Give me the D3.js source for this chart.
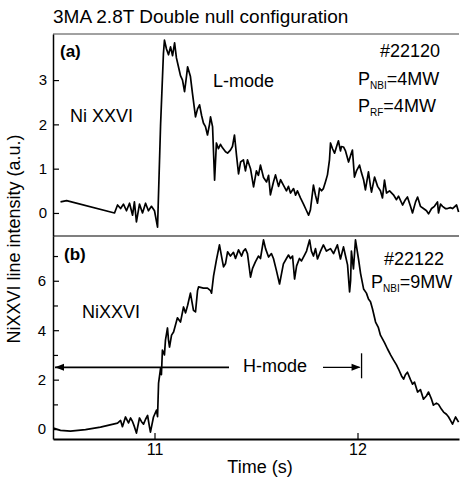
<!DOCTYPE html>
<html>
<head>
<meta charset="utf-8">
<script src="https://cdn.jsdelivr.net/npm/d3@7"></script>
<style>
  html, body { margin: 0; padding: 0; background: #fff; }
  svg { display: block; font-family: "Liberation Sans", Arial, Helvetica, sans-serif; }
</style>
</head>
<body>
<svg id="chart" width="461" height="480"></svg>
<script>
// Shot #22120 (L-mode): NiXXVI line intensity vs time
const timeA = [10.537,10.567,10.803,10.818,10.833,10.847,10.862,10.877,10.892,10.901,10.911,10.926,10.941,10.956,10.970,10.985,11.000,11.015,11.030,11.044,11.049,11.059,11.069,11.079,11.089,11.099,11.108,11.118,11.128,11.138,11.148,11.158,11.163,11.177,11.187,11.202,11.212,11.222,11.232,11.241,11.251,11.261,11.271,11.276,11.286,11.296,11.305,11.315,11.325,11.335,11.350,11.360,11.374,11.384,11.394,11.404,11.414,11.424,11.438,11.448,11.458,11.473,11.488,11.502,11.512,11.522,11.537,11.552,11.562,11.571,11.586,11.596,11.611,11.621,11.635,11.650,11.660,11.670,11.685,11.695,11.704,11.719,11.734,11.749,11.759,11.768,11.783,11.793,11.803,11.813,11.823,11.832,11.842,11.852,11.862,11.867,11.877,11.887,11.897,11.906,11.916,11.921,11.931,11.941,11.956,11.966,11.975,11.985,11.995,12.010,12.020,12.030,12.039,12.054,12.064,12.069,12.084,12.099,12.113,12.123,12.133,12.143,12.158,12.177,12.192,12.202,12.222,12.236,12.246,12.261,12.271,12.286,12.296,12.310,12.325,12.340,12.350,12.365,12.379,12.394,12.399,12.409,12.419,12.433,12.443,12.458,12.468,12.488,12.498];
const intensityA = [0.25,0.28,0.0,0.18,0.1,0.2,0.05,0.22,-0.05,0.25,-0.2,0.2,0.0,0.22,0.05,0.15,0.05,-0.32,2.0,3.6,3.9,3.7,3.57,3.75,3.55,3.84,3.5,3.3,3.1,3.0,2.74,3.1,3.3,3.08,2.7,2.17,2.35,2.44,2.2,2.03,1.95,1.76,2.0,2.17,1.95,0.74,1.58,1.45,1.55,1.47,1.38,1.35,1.42,1.5,1.76,1.3,0.88,1.15,1.2,0.95,1.2,1.0,0.59,0.95,0.85,1.08,0.8,0.7,0.85,0.41,0.7,0.86,0.6,0.75,0.63,0.5,0.6,0.45,0.55,0.4,0.5,0.34,0.2,0.05,-0.05,0.07,0.63,0.4,0.22,0.56,0.5,0.55,0.7,0.86,1.2,1.58,1.45,1.35,1.5,1.63,1.4,1.5,1.49,1.4,1.15,1.3,1.42,0.81,0.95,1.08,0.9,0.75,0.52,0.93,0.6,0.47,0.81,0.6,0.5,0.34,0.74,0.45,0.5,0.41,0.3,0.38,0.18,0.3,0.36,0.15,0.0,0.25,0.36,0.15,0.1,0.05,-0.02,0.1,0.15,0.25,0.0,0.2,0.15,0.1,0.1,0.12,0.1,0.18,0.02];

// Shot #22122 (H-mode): NiXXVI line intensity vs time
const timeB = [10.502,10.537,10.586,10.660,10.734,10.818,10.833,10.842,10.857,10.872,10.882,10.892,10.901,10.911,10.926,10.936,10.946,10.956,10.966,10.975,10.980,10.995,11.010,11.015,11.020,11.030,11.034,11.039,11.049,11.054,11.064,11.069,11.074,11.084,11.094,11.103,11.113,11.128,11.143,11.153,11.163,11.177,11.192,11.202,11.212,11.217,11.241,11.261,11.276,11.281,11.291,11.305,11.320,11.330,11.340,11.350,11.360,11.374,11.389,11.399,11.414,11.429,11.438,11.448,11.458,11.473,11.483,11.497,11.512,11.522,11.537,11.547,11.562,11.576,11.586,11.601,11.616,11.626,11.635,11.650,11.660,11.670,11.680,11.690,11.700,11.714,11.724,11.739,11.749,11.764,11.773,11.783,11.793,11.803,11.818,11.832,11.847,11.867,11.882,11.901,11.916,11.931,11.941,11.951,11.961,11.966,11.970,11.980,11.990,12.005,12.015,12.030,12.044,12.054,12.064,12.074,12.089,12.103,12.113,12.133,12.148,12.163,12.177,12.192,12.202,12.217,12.227,12.236,12.246,12.261,12.271,12.281,12.296,12.310,12.325,12.340,12.350,12.365,12.374,12.389,12.399,12.414,12.424,12.438,12.448,12.458,12.468,12.483,12.498];
const intensityB = [0.04,-0.05,-0.08,-0.02,0.08,0.24,0.35,0.1,0.49,0.25,0.45,0.3,0.1,-0.16,0.45,0.3,0.2,0.4,0.55,0.1,-0.12,0.49,0.77,0.5,1.86,2.47,2.2,3.2,3.0,3.6,4.09,3.6,3.32,3.8,3.93,4.2,4.5,4.33,4.94,4.7,5.0,5.5,4.8,4.74,5.6,5.75,5.7,5.7,5.6,5.5,6.2,6.84,7.45,7.0,6.56,6.7,7.17,7.0,7.15,6.9,7.25,7.0,7.2,7.29,7.1,6.15,6.5,6.76,7.0,6.9,7.65,7.3,6.96,7.1,6.9,6.4,5.87,6.3,6.68,6.9,7.04,6.9,7.0,6.07,6.6,6.9,6.8,7.04,7.2,7.65,7.2,7.0,7.3,6.88,7.2,7.45,7.2,7.3,7.1,7.45,6.88,7.37,7.0,6.64,5.55,6.0,7.2,6.48,7.65,6.88,6.3,5.67,5.5,5.26,5.15,4.86,4.33,4.1,3.8,3.5,3.24,3.0,2.8,2.6,2.43,2.15,2.02,2.2,2.3,2.0,1.82,1.9,1.5,1.6,1.21,1.35,1.5,1.2,0.97,1.05,1.0,0.8,0.69,0.6,0.5,0.35,0.2,0.49,0.28];

const timeTicks = [11, 12];
const ticksA = [0, 1, 2, 3];
const ticksB = [0, 2, 4, 6];
const minorTicksB = [1, 3, 5, 7];

// H-mode interval: from start of window to the end of the H phase
const hModeEnd = 12.02;
const hModeLevel = 2.5;

const svg = d3.select("#chart");
const plotLeft = 53, plotRight = 459, plotTop = 34, plotMid = 236, plotBottom = 439;

const x = d3.scaleLinear().domain([10.5, 12.5]).range([plotLeft, plotRight]);
const yA = d3.scaleLinear().domain([-0.52, 4.04]).range([plotMid, plotTop]);
const yB = d3.scaleLinear().domain([-0.4, 7.81]).range([plotBottom, plotMid]);

// Title
svg.append("text")
  .attr("x", 53).attr("y", 23)
  .attr("font-size", 19)
  .text("3MA 2.8T Double null configuration");

// Frame lines
svg.append("line").attr("x1", plotLeft).attr("x2", plotRight).attr("y1", plotTop).attr("y2", plotTop)
  .attr("stroke", "#444").attr("stroke-width", 1);
svg.append("line").attr("x1", plotLeft).attr("x2", plotRight).attr("y1", plotMid).attr("y2", plotMid)
  .attr("stroke", "#000").attr("stroke-width", 1.2);

// Left axes
svg.append("g").attr("transform", `translate(${plotLeft},0)`)
  .call(d3.axisLeft(yA).tickValues(ticksA).tickFormat(d3.format("d"))
    .tickSize(-6).tickSizeOuter(0).tickPadding(6));
svg.append("g").attr("transform", `translate(${plotLeft},0)`)
  .call(d3.axisLeft(yB).tickValues(ticksB).tickFormat(d3.format("d"))
    .tickSize(-6).tickSizeOuter(0).tickPadding(7));
svg.append("g").attr("transform", `translate(${plotLeft},0)`)
  .call(d3.axisLeft(yB).tickValues(minorTicksB).tickFormat("").tickSize(-5).tickSizeOuter(0))
  .select(".domain").remove();

// Bottom axis
const axX = svg.append("g").attr("transform", `translate(0,${plotBottom})`)
  .call(d3.axisBottom(x).tickValues(timeTicks).tickFormat(d3.format("d"))
    .tickSize(-6).tickSizeOuter(0).tickPadding(5));

svg.selectAll(".tick text").attr("font-size", 15).attr("fill", "#000")
  .attr("font-family", "'Liberation Sans', Arial, sans-serif");
axX.selectAll(".tick text").attr("font-size", 16);
svg.selectAll(".domain").attr("stroke", "#000").attr("stroke-width", 1.5);
axX.select(".domain").attr("stroke-width", 2.2);
svg.selectAll(".tick line").attr("stroke", "#000").attr("stroke-width", 1.2);

// Axis titles
svg.append("text")
  .attr("x", (x(11) + x(12)) / 2 + 4).attr("y", 473)
  .attr("text-anchor", "middle").attr("font-size", 18)
  .text("Time (s)");
svg.append("text")
  .attr("transform", "translate(20,239) rotate(-90)")
  .attr("text-anchor", "middle").attr("font-size", 18)
  .text("NiXXVI line intensity (a.u.)");

// Traces
const lineA = d3.line().x((d, i) => x(timeA[i])).y(d => yA(d));
const lineB = d3.line().x((d, i) => x(timeB[i])).y(d => yB(d));
svg.append("path").attr("d", lineA(intensityA))
  .attr("fill", "none").attr("stroke", "#000").attr("stroke-width", 1.7)
  .attr("stroke-linejoin", "round");
svg.append("path").attr("d", lineB(intensityB))
  .attr("fill", "none").attr("stroke", "#000").attr("stroke-width", 1.7)
  .attr("stroke-linejoin", "round");

// Panel annotations
function label(txt, px, py, size, weight) {
  return svg.append("text").attr("x", px).attr("y", py)
    .attr("font-size", size).attr("font-weight", weight || "normal").text(txt);
}
function powerLabel(main, sub, rest, px, py) {
  const t = svg.append("text").attr("x", px).attr("y", py).attr("font-size", 18);
  t.append("tspan").text(main);
  t.append("tspan").attr("font-size", 10).attr("dy", 4).text(sub);
  t.append("tspan").attr("dy", -4).text(rest);
}
label("(a)", 60, 57, 17, "bold");
label("Ni XXVI", 70, 122, 18);
label("L-mode", 213, 87, 18);
label("#22120", 380, 57, 18);
powerLabel("P", "NBI", "=4MW", 358, 85);
powerLabel("P", "RF", "=4MW", 358, 112);

label("(b)", 64, 260, 17, "bold");
label("NiXXVI", 82, 318, 18);
label("#22122", 384, 265, 18);
powerLabel("P", "NBI", "=9MW", 371, 288);

// H-mode interval arrows
const hy = yB(hModeLevel);
const hx = x(hModeEnd);
svg.append("line").attr("x1", plotLeft + 2).attr("x2", 229).attr("y1", hy).attr("y2", hy)
  .attr("stroke", "#000").attr("stroke-width", 1.8);
svg.append("path")
  .attr("d", `M${plotLeft + 2},${hy} l9,-3.5 l0,7 z`).attr("fill", "#000");
label("H-mode", 243, hy + 5, 18);
svg.append("line").attr("x1", 323).attr("x2", hx - 2).attr("y1", hy).attr("y2", hy)
  .attr("stroke", "#000").attr("stroke-width", 1.3);
svg.append("path")
  .attr("d", `M${hx - 1},${hy} l-9,-3.5 l0,7 z`).attr("fill", "#000");
svg.append("line").attr("x1", hx).attr("x2", hx).attr("y1", hy - 14).attr("y2", hy + 11)
  .attr("stroke", "#000").attr("stroke-width", 1.3);
</script>
</body>
</html>
